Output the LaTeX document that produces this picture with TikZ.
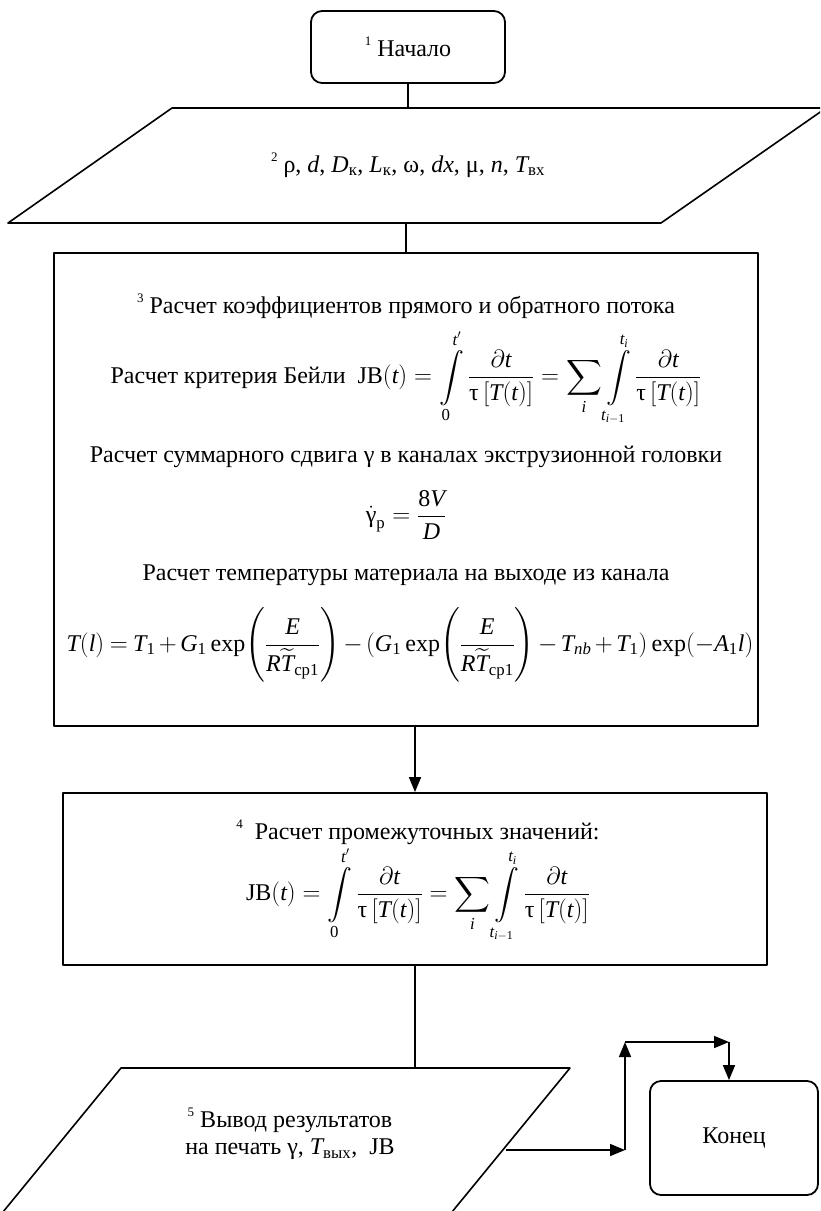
\documentclass[tikz,border=0pt]{standalone}
\usepackage{amsmath}
\usepackage{mathspec}
\setmainfont{Liberation Serif}
\setmathsfont(Digits,Latin){Liberation Serif}
\setmathrm{Liberation Serif}
\usetikzlibrary{arrows.meta}
\newcommand{\idx}[1]{\raisebox{0.45em}{\fontsize{13}{13}\selectfont #1}}

\begin{document}
\begin{tikzpicture}[x=1pt, y=-1pt, line join=round,
    every node/.style={font=\fontsize{24}{27}\selectfont, inner sep=0pt},
    trait/.style={line width=1.6pt},
    fleche/.style={line width=1.6pt, -{Triangle[length=15pt, width=12pt]}},
    bloc/.style={draw, line width=1.8pt},
    terminal/.style={draw, line width=1.8pt, rounded corners=11pt}]
  \useasboundingbox (0,0) rectangle (820,1211);
  \clip (0,0) rectangle (820,1211);
  % Bloc 1 : debut
  \node[terminal, minimum width=194pt, minimum height=72pt] (debut) at (408,47) {\idx{1} Начало};
  % Bloc 2 : donnees d'entree
  \draw[trait] (8,223) -- (661,223) -- (826,108) -- (172,108) -- cycle;
  \coordinate (e-haut) at (408,108);
  \coordinate (e-bas) at (406,223);
  \node (donnees) at (408,165) {\idx{2} ρ, $d$, $D_{\text{к}}$, $L_{\text{к}}$, ω, $dx$, μ, $n$, $T_{\text{вх}}$};
  % Bloc 3 : calculs
  \node[bloc, minimum width=704pt, minimum height=473pt] (calc) at (406,489.5) {};
  \node (calc1) at (406,306) {\idx{3} Расчет коэффициентов прямого и обратного потока};
  \node (calc2) at (406,378) {Расчет критерия Бейли\ \ $\displaystyle \text{JB}(t)=\int\limits_0^{t'}\frac{\partial t}{\text{τ}\,[T(t)]}=\sum_i\int\limits_{t_{i-1}}^{t_i}\frac{\partial t}{\text{τ}\,[T(t)]}$};
  \node (calc3) at (406,457) {Расчет суммарного сдвига γ в каналах экструзионной головки};
  \node (calc4) at (406,515) {$\displaystyle \dot{\text{γ}}_{\text{р}}=\frac{8V}{D}$};
  \node (calc5) at (406,575) {Расчет температуры материала на выходе из канала};
  \node (calc6) at (410,645) {\medmuskip=2.5mu\thickmuskip=4mu $\displaystyle T(l)=T_1+G_1\exp\!\left(\frac{E}{R\widetilde{T}_{\text{ср1}}}\right)-(G_1\exp\!\left(\frac{E}{R\widetilde{T}_{\text{ср1}}}\right)-T_{nb}+T_1)\exp(-A_1l)$};
  % Bloc 4 : valeurs intermediaires
  \node[bloc, minimum width=704pt, minimum height=172pt] (inter) at (415,879) {};
  \node (inter1) at (418,832) {\idx{4}\ \ Расчет промежуточных значений:};
  \node (inter2) at (418,895) {$\displaystyle \text{JB}(t)=\int\limits_0^{t'}\frac{\partial t}{\text{τ}\,[T(t)]}=\sum_i\int\limits_{t_{i-1}}^{t_i}\frac{\partial t}{\text{τ}\,[T(t)]}$};
  % Bloc 5 : sortie des resultats
  \draw[trait] (121,1068) -- (570,1068) -- (429,1240) -- (-20,1240) -- cycle;
  \coordinate (s-haut) at (415,1068);
  \coordinate (s-droite) at (506,1150);
  \node[align=center] (sortie) at (290,1134) {\idx{5} Вывод результатов\\на печать γ, $T_{\text{вых}}$,\ \ JB};
  % Bloc 6 : fin
  \node[terminal, minimum width=168pt, minimum height=114pt] (fin) at (734,1138) {Конец};
  % Liaisons
  \draw[trait] (debut) -- (e-haut);
  \draw[trait] (e-bas) -- (calc.north);
  \draw[fleche] (inter.north |- calc.south) -- (inter.north);
  \draw[trait] (inter.south) -- (s-haut);
  \coordinate (c1) at (625,1150);
  \coordinate (c2) at (625,1042);
  \coordinate (c3) at (729,1042);
  \draw[fleche] (s-droite) -- (c1);
  \draw[fleche] (c1) -- (c2);
  \draw[fleche] (c2) -- (c3);
  \draw[fleche] (c3) -- (c3 |- fin.north);
\end{tikzpicture}
\end{document}
